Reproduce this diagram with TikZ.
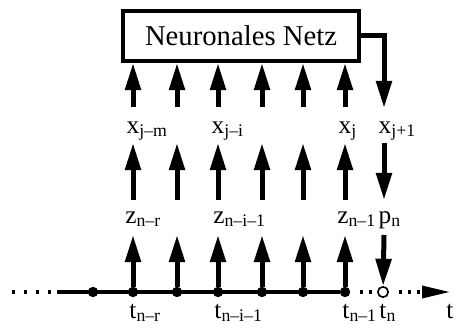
\documentclass[tikz,border=0pt]{standalone}
\usepackage{fontspec}
\setmainfont{Liberation Serif}
\usetikzlibrary{arrows.meta,positioning}

\begin{document}
\begin{tikzpicture}[
  x=0.025cm, y=-0.025cm,
  box/.style={draw, line width=0.1cm, minimum width=5.9cm, minimum height=1.25cm, inner sep=0pt, font=\fontsize{20.4}{24}\selectfont},
  arr/.style={-{Triangle[length=0.68cm, width=0.38cm]}, line width=0.125cm},
  lbl/.style={anchor=base, inner sep=0pt, font=\fontsize{18}{20}\selectfont},
  axis/.style={line width=0.085cm},
  dots/.style={axis, dash pattern=on 0.075cm off 0.15cm},
  dot/.style={circle, fill, inner sep=0pt, minimum size=0.26cm},
  hollow/.style={circle, draw, fill=white, line width=0.04cm, inner sep=0pt, minimum size=0.26cm}
]
\useasboundingbox (0,0) rectangle (457,334);

\node[box] (nn) at (241,36) {Neuronales Netz};

% time axis
\coordinate (l0) at (12,292);
\coordinate (l1) at (51,292);
\coordinate (s0) at (57,292);
\coordinate (te) at (450,292);
\node[dot] (d0) at (93,292) {};
\node[hollow] (tn) at (383,292) {};

% input columns
\foreach \i/\c in {1/133,2/177,3/218,4/262,5/303,6/345}{
  \node[dot] (d\i) at (\c,292) {};
  \coordinate (zb\i) at (\c,235);
  \coordinate (xa\i) at (\c,200);
  \coordinate (xb\i) at (\c,143);
  \coordinate (na\i) at (\c,107);
  \draw[arr] (d\i) -- (zb\i);
  \draw[arr] (xa\i) -- (xb\i);
  \draw[arr] (na\i) -- (nn.south -| na\i);
}

\draw[dots, dash pattern=on 0.075cm off 0.225cm] (l0) -- (l1);
\draw[axis] (s0) -- (d6);
\draw[dots, shorten <=0.25cm, shorten >=0.1cm] (d6) -- (tn);
\draw[dots, shorten <=0.25cm, -{Triangle[length=0.7cm, width=0.3cm]}] (tn) -- (te);

% output column
\coordinate (xr) at (384,108);
\coordinate (ra) at (384,143);
\coordinate (rb) at (384,200);
\coordinate (rc) at (384,235);
\draw[arr] (nn.east) -| (xr);
\draw[arr] (ra) -- (rb);
\draw[arr] (rc) -- (tn);

% labels
\node[lbl] (x1) at (133,133) {x\rlap{\textsubscript{j–m}}};
\node[lbl] (x3) at (218,133) {x\rlap{\textsubscript{j–i}}};
\node[lbl] (x6) at (345,133) {x\rlap{\textsubscript{j}}};
\node[lbl] (x7) at (385,133) {x\rlap{\textsubscript{j+1}}};

\node[lbl] (z1) at (131,223) {z\rlap{\textsubscript{n–r}}};
\node[lbl] (z3) at (219,223) {z\rlap{\textsubscript{n–i–1}}};
\node[lbl] (z6) at (343,223) {z\rlap{\textsubscript{n–1}}};
\node[lbl] (pn) at (385,223) {p\rlap{\textsubscript{n}}};

\node[lbl] (t1) at (133,318) {t\rlap{\textsubscript{n–r}}};
\node[lbl] (t3) at (218,318) {t\rlap{\textsubscript{n–i–1}}};
\node[lbl] (t6) at (346,318) {t\rlap{\textsubscript{n–1}}};
\node[lbl] (t7) at (383,318) {t\rlap{\textsubscript{n}}};
\node[lbl] (tt) at (450,318) {t};
\end{tikzpicture}
\end{document}
